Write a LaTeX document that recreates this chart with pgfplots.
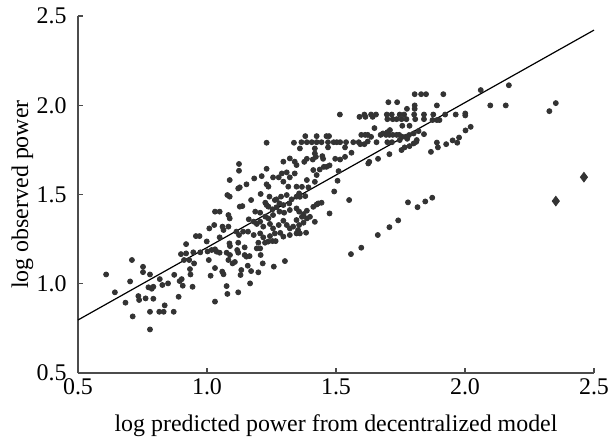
\documentclass[border=0pt,12pt]{standalone}
\usepackage{fontspec}
\setmainfont{Liberation Serif}
\usepackage{pgfplots}
\pgfplotsset{compat=1.18}
\usetikzlibrary{calc}
\definecolor{dotc}{HTML}{333333}
\begin{document}
\begin{tikzpicture}
\begin{axis}[
  width=258bp, height=178.5bp, scale only axis,
  xmin=0.5, xmax=2.5, ymin=0.5, ymax=2.5,
  axis x line=bottom, axis y line=left,
  axis line style={-, draw=black!70, line width=0.8pt},
  xtick={0.5,1.0,1.5,2.0,2.5}, ytick={0.5,1.0,1.5,2.0,2.5},
  tick align=inside, major tick length=2.5bp,
  tick style={draw=black!70, line width=0.6pt},
  /pgf/number format/.cd, fixed, fixed zerofill, precision=1, assume math mode=true, /pgfplots/.cd,
  xticklabel style={yshift=1.5bp},
  yticklabel style={xshift=-1.5bp},
  xlabel={log predicted power from decentralized model},
  ylabel={log observed power},
  xlabel style={at={(axis description cs:0.5,0)}, anchor=center, yshift=-26.5bp},
  ylabel style={at={(axis description cs:0,0.5)}, anchor=center, rotate=0, yshift=27.75bp},
  clip=false,
]
\addplot[only marks, mark=*, mark size=1.25bp, color=dotc] coordinates {
(0.609,1.052)(0.643,0.952)(0.684,0.894)(0.702,1.013)(0.712,0.817)(0.709,1.133)(0.734,0.931)(0.737,0.909)(0.752,1.095)(0.752,1.065)
(0.762,0.918)(0.779,1.052)(0.779,0.843)(0.779,0.744)(0.773,0.980)(0.786,0.972)(0.792,0.983)(0.792,0.916)(0.815,0.843)(0.817,1.026)
(0.827,0.993)(0.832,0.843)(0.836,0.879)(0.849,1.002)(0.871,0.843)(0.873,1.050)(0.890,0.927)(0.894,1.015)(0.899,1.166)(0.902,1.026)
(0.906,0.989)(0.911,1.133)(0.919,1.222)(0.919,1.170)(0.931,1.133)(0.934,1.082)(0.936,1.052)(0.944,0.983)(0.947,1.176)(0.950,1.114)
(0.957,1.267)(0.971,1.267)(0.974,1.176)(0.999,1.237)(1.002,1.181)(1.007,1.133)(1.009,1.310)
(1.124,1.671)(1.124,1.633)(1.088,1.581)(1.231,1.644)(1.296,1.684)(1.321,1.702)(1.340,1.684)(1.347,1.665)(1.121,1.534)(1.127,1.540)
(1.153,1.557)(1.183,1.590)(1.212,1.603)(1.231,1.557)(1.238,1.544)(1.256,1.596)(1.278,1.596)(1.290,1.618)(1.309,1.624)(1.321,1.596)
(1.340,1.618)(1.296,1.572)(1.315,1.544)(1.347,1.544)(1.079,1.497)(1.088,1.488)(1.171,1.469)(1.208,1.503)(1.226,1.454)(1.242,1.488)
(1.263,1.469)(1.269,1.473)(1.287,1.488)(1.309,1.497)(1.328,1.473)(1.347,1.488)(1.357,1.506)(1.127,1.432)(1.137,1.435)(1.231,1.441)
(1.238,1.432)(1.254,1.417)(1.269,1.428)(1.281,1.450)(1.296,1.441)(1.319,1.450)(1.031,1.404)(1.049,1.404)(1.083,1.385)(1.088,1.366)
(1.187,1.404)(1.206,1.398)(1.226,1.376)(1.238,1.366)(1.256,1.385)(1.281,1.404)(1.299,1.398)(1.321,1.413)(1.347,1.422)(1.357,1.404)
(1.162,1.361)(1.181,1.348)(1.193,1.335)(1.206,1.348)(1.218,1.320)(1.244,1.335)(1.256,1.310)(1.278,1.329)(1.296,1.353)(1.309,1.329)
(1.321,1.310)(1.334,1.320)(1.347,1.357)(1.353,1.301)(1.357,1.329)(1.028,1.329)(1.060,1.320)(1.064,1.301)(1.083,1.320)(1.114,1.292)
(1.124,1.273)(1.140,1.292)(1.159,1.292)(1.181,1.273)(1.206,1.282)(1.218,1.260)(1.244,1.267)(1.263,1.282)(1.284,1.285)(1.296,1.264)
(1.321,1.273)(1.347,1.282)(1.049,1.260)(1.231,1.790)(1.337,1.790)
(1.087,1.226)(1.089,1.211)(1.121,1.230)(1.146,1.204)(1.199,1.230)(1.225,1.230)(1.237,1.236)(1.254,1.239)(1.266,1.239)(1.018,1.189)
(1.031,1.193)(1.037,1.180)(1.049,1.174)(1.076,1.174)(1.089,1.161)(1.117,1.189)(1.121,1.174)(1.146,1.161)(1.153,1.152)(1.165,1.155)
(1.193,1.198)(1.206,1.198)(1.208,1.161)(1.014,1.045)(1.031,1.088)(1.059,1.068)(1.064,1.053)(1.083,1.133)(1.099,1.114)(1.108,1.122)
(1.133,1.077)(1.130,1.049)(1.158,1.101)(1.171,1.071)(1.199,1.064)(1.216,1.114)(1.259,1.096)(1.302,1.127)(1.076,0.987)(1.079,0.943)
(1.121,0.952)(1.167,1.002)(1.031,0.900)
(1.805,2.062)(1.830,2.062)(1.849,2.062)(1.916,2.062)(2.170,2.112)(2.061,2.085)(1.703,2.017)(1.737,2.017)(1.805,1.999)(1.805,1.980)
(1.775,1.980)(1.891,1.999)(2.098,1.999)(2.158,1.999)(2.352,2.012)(2.327,1.967)(1.515,1.948)(1.591,1.935)(1.610,1.948)(1.614,1.935)
(1.636,1.948)(1.642,1.935)(1.655,1.948)(1.697,1.948)(1.699,1.922)(1.716,1.948)(1.720,1.922)(1.735,1.922)(1.747,1.948)(1.754,1.922)
(1.764,1.948)(1.773,1.922)(1.803,1.948)(1.807,1.922)(1.841,1.948)(1.841,1.922)(1.877,1.948)(1.874,1.917)(1.891,1.917)(1.901,1.917)
(1.923,1.948)(1.964,1.948)(2.001,1.954)(2.001,1.943)(1.757,1.885)(1.785,1.885)(1.649,1.872)(1.699,1.849)(1.709,1.861)(1.598,1.834)
(1.613,1.834)(1.623,1.834)(1.636,1.823)(1.673,1.834)(1.682,1.842)(1.694,1.834)(1.707,1.834)(1.720,1.834)(1.735,1.834)(1.745,1.834)
(1.757,1.823)(1.770,1.823)(1.783,1.833)(1.801,1.842)(1.820,1.855)(1.841,1.838)(1.381,1.827)(1.425,1.827)(1.463,1.827)(1.473,1.827)
(1.366,1.793)(1.387,1.793)(1.406,1.793)(1.425,1.793)(1.444,1.793)(1.469,1.793)(1.491,1.793)(1.503,1.793)(1.516,1.793)(1.539,1.793)
(1.567,1.793)(1.588,1.793)(1.594,1.782)(1.610,1.782)(1.623,1.797)(1.657,1.793)(1.699,1.793)(1.717,1.793)(1.747,1.805)(1.776,1.812)
(1.811,1.795)(1.891,1.791)(1.927,1.782)(1.952,1.803)(1.970,1.790)(1.977,1.819)(2.002,1.859)(2.022,1.879)(1.360,1.758)(1.418,1.758)
(1.469,1.764)(1.535,1.764)(1.560,1.734)(1.535,1.711)(1.516,1.696)(1.497,1.700)(1.418,1.730)(1.422,1.711)(1.387,1.700)(1.377,1.683)
(1.410,1.696)(1.447,1.715)(1.450,1.700)(1.453,1.655)(1.437,1.640)(1.412,1.637)(1.425,1.609)(1.475,1.663)(1.463,1.655)(1.510,1.631)
(1.418,1.571)(1.387,1.581)(1.368,1.543)(1.393,1.540)(1.381,1.491)(1.360,1.487)(1.663,1.700)(1.707,1.726)(1.625,1.674)(1.629,1.683)
(1.754,1.749)(1.766,1.764)(1.785,1.771)(1.801,1.786)(1.813,1.805)(1.868,1.739)(1.895,1.764)(1.493,1.517)(1.506,1.577)(1.551,1.469)
(1.475,1.394)(1.425,1.444)(1.431,1.450)(1.444,1.454)(1.412,1.431)(1.387,1.409)(1.374,1.390)(1.368,1.375)(1.374,1.342)(1.387,1.366)
(1.399,1.375)(1.418,1.347)(1.360,1.282)(1.384,1.286)(1.779,1.456)(1.816,1.429)(1.846,1.461)(1.873,1.482)(1.741,1.355)(1.707,1.317)
(1.662,1.273)(1.598,1.202)(1.558,1.166)
};
\addplot[only marks, mark=diamond*, mark size=2.4bp, color=dotc] coordinates {(2.352,1.463)(2.461,1.597)};
\addplot[black, line width=0.6pt] coordinates {(0.5,0.797)(2.5,2.421)};
\end{axis}
\pgfresetboundingbox
\path[use as bounding box] ($(current axis.south west)+(-39bp,-32.5bp)$) rectangle ($(current axis.north east)+(9bp,8bp)$);
\end{tikzpicture}
\end{document}
